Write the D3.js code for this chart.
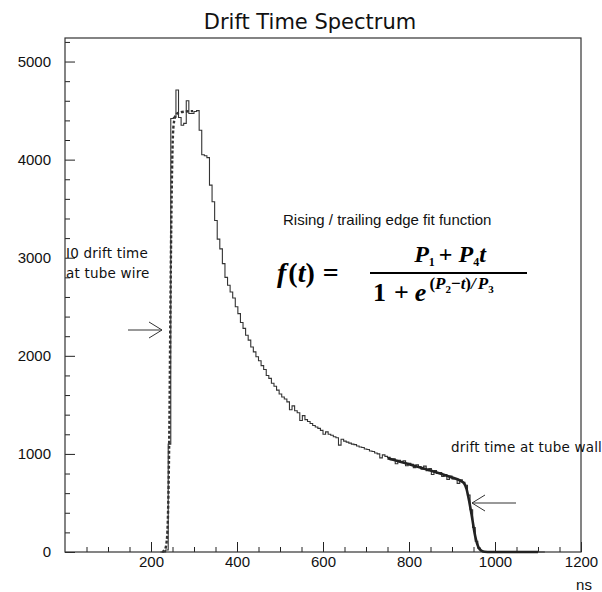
<!DOCTYPE html>
<html>
<head>
<meta charset="utf-8">
<script src="https://cdn.jsdelivr.net/npm/d3@7"></script>
<style>
  body { margin: 0; background: #fff; }
  svg { display: block; }
</style>
</head>
<body>
<svg width="602" height="592"></svg>
<script>
// histogram: 6 ns bins starting at 222 ns
var binStart = 222, binWidth = 6;
var counts = [
  0, 0, 20, 1100, 4420, 4430, 4710, 4430, 4350, 4370,
  4600, 4470, 4470, 4490, 4500, 4300, 4050, 4040, 4020, 3740,
  3570, 3380, 3190, 3090, 2940, 2800, 2720, 2650, 2590, 2500,
  2430, 2340, 2280, 2210, 2160, 2090, 2040, 1990, 1950, 1900,
  1860, 1800, 1770, 1720, 1690, 1650, 1610, 1580, 1560, 1530,
  1450, 1490, 1440, 1420, 1340, 1390, 1350, 1330, 1310, 1290,
  1275, 1260, 1240, 1200, 1225, 1200, 1190, 1175, 1165, 1090,
  1150, 1130, 1120, 1110, 1100, 1095, 1080, 1070, 1065, 1050,
  1045, 1030, 1025, 1010, 1000, 960, 990, 975, 965, 940,
  950, 900, 935, 915, 930, 880, 905, 895, 860, 890,
  870, 845, 875, 830, 850, 790, 830, 800, 810, 770,
  790, 740, 775, 745, 750, 700, 735, 710, 680, 580,
  430, 250, 110, 40, 10, 0, 0, 0, 0, 0,
  0, 0, 0, 0, 0, 0, 0, 0, 0, 0,
  0, 0, 0, 0, 0, 0, 0, 0, 0
];

// rising edge fit (dashed)
var riseT = [226, 232, 236, 239, 241, 243, 245, 247, 249, 251, 254, 258, 266, 280, 298];
var riseF = [0, 20, 90, 300, 700, 1400, 2400, 3300, 3900, 4250, 4400, 4460, 4480, 4490, 4495];

// trailing edge fit (solid)
var fallT = [750, 800, 850, 900, 920, 928, 934, 938, 942, 946, 950, 954, 958, 962, 968, 976, 990, 1100];
var fallF = [955, 895, 830, 760, 725, 700, 640, 560, 470, 370, 260, 160, 90, 45, 15, 3, 0, 0];

var xMajor = [200, 400, 600, 800, 1000, 1200];
var xMinor = [50, 100, 150, 250, 300, 350, 450, 500, 550, 650, 700, 750, 850, 900, 950, 1050, 1100, 1150];
var yMajor = [0, 1000, 2000, 3000, 4000, 5000];
var yMinor = [200, 400, 600, 800, 1200, 1400, 1600, 1800, 2200, 2400, 2600, 2800, 3200, 3400, 3600, 3800, 4200, 4400, 4600, 4800, 5200];

var svg = d3.select("svg"),
    margin = {top: 38, right: 21, bottom: 40, left: 65},
    width = +svg.attr("width") - margin.left - margin.right,
    height = +svg.attr("height") - margin.top - margin.bottom,
    g = svg.append("g").attr("transform", "translate(" + margin.left + "," + margin.top + ")");

var x = d3.scaleLinear().domain([0, 1200]).range([0, width]);
var y = d3.scaleLinear().domain([0, 5240]).range([height, 0]);

var ink = "#222";

svg.append("text")
    .attr("x", 310).attr("y", 29)
    .attr("text-anchor", "middle")
    .attr("font-family", "DejaVu Sans")
    .attr("font-size", 21)
    .attr("fill", "#111")
    .text("Drift Time Spectrum");

// axes
g.append("g")
    .attr("transform", "translate(0," + height + ")")
    .call(d3.axisBottom(x).tickValues(xMajor).tickSize(-10).tickPadding(4).tickFormat(d3.format("d")));
g.append("g")
    .attr("transform", "translate(0," + height + ")")
    .call(d3.axisBottom(x).tickValues(xMinor).tickSize(-5).tickFormat(""));
g.append("g")
    .call(d3.axisLeft(y).tickValues(yMajor).tickSize(-10).tickPadding(14).tickFormat(d3.format("d")));
g.append("g")
    .call(d3.axisLeft(y).tickValues(yMinor).tickSize(-5).tickFormat(""));

g.selectAll(".domain").remove();
g.selectAll(".tick line").attr("stroke", ink);
g.selectAll(".tick text")
    .attr("font-family", "Liberation Sans, Arial, sans-serif")
    .attr("font-size", 15)
    .attr("fill", "#111");

g.append("rect")
    .attr("width", width).attr("height", height)
    .attr("fill", "none").attr("stroke", "#333").attr("stroke-width", 1.2);

svg.append("text")
    .attr("x", 584).attr("y", 590)
    .attr("text-anchor", "middle")
    .attr("font-family", "Liberation Sans, Arial, sans-serif")
    .attr("font-size", 15)
    .attr("fill", "#111")
    .text("ns");

// histogram
var hist = counts.map(function(c, i) { return {t: binStart + i * binWidth, c: c}; });
hist.push({t: binStart + counts.length * binWidth, c: counts[counts.length - 1]});

var step = d3.line()
    .x(function(d) { return x(d.t); })
    .y(function(d) { return y(d.c); })
    .curve(d3.curveStepAfter);

g.append("path")
    .datum(hist)
    .attr("fill", "none")
    .attr("stroke", "#333")
    .attr("stroke-width", 1.1)
    .attr("d", step);

var fitLine = d3.line()
    .x(function(d) { return x(d[0]); })
    .y(function(d) { return y(d[1]); })
    .curve(d3.curveMonotoneX);

g.append("path")
    .datum(riseT.map(function(t, i) { return [t, riseF[i]]; }))
    .attr("fill", "none")
    .attr("stroke", "#333")
    .attr("stroke-width", 2.4)
    .attr("stroke-dasharray", "3,2")
    .attr("d", fitLine);

g.append("path")
    .datum(fallT.map(function(t, i) { return [t, fallF[i]]; }))
    .attr("fill", "none")
    .attr("stroke", "#222")
    .attr("stroke-width", 2.6)
    .attr("d", fitLine);

// annotations
var note = svg.append("g")
    .attr("font-family", "DejaVu Sans")
    .attr("font-size", 13.5)
    .attr("letter-spacing", 0.2)
    .attr("fill", "#111");
note.append("text").attr("x", 66).attr("y", 258).text("I0 drift time");
note.append("text").attr("x", 66).attr("y", 278).text("at tube wire");
note.append("text").attr("x", 451).attr("y", 452).text("drift time at tube wall");

function arrow(x1, x2, yy) {
  var dir = x2 > x1 ? -1 : 1;
  var a = svg.append("g").attr("stroke", "#333").attr("stroke-width", 1).attr("fill", "none");
  a.append("line").attr("x1", x1).attr("y1", yy).attr("x2", x2).attr("y2", yy);
  a.append("line").attr("x1", x2).attr("y1", yy).attr("x2", x2 + dir * 13).attr("y2", yy - 8);
  a.append("line").attr("x1", x2).attr("y1", yy).attr("x2", x2 + dir * 13).attr("y2", yy + 8);
}
arrow(128, 162, 330);
arrow(516, 472, 503);

svg.append("text")
    .attr("x", 283).attr("y", 225)
    .attr("font-family", "Liberation Sans, Arial, sans-serif")
    .attr("font-size", 15)
    .attr("fill", "#111")
    .text("Rising / trailing edge fit function");

// formula
var f = svg.append("g")
    .attr("font-family", "Liberation Serif, Times New Roman, serif")
    .attr("font-weight", "bold")
    .attr("fill", "#000");

var lhs = f.append("text").attr("x", 277).attr("y", 282).attr("font-size", 28);
lhs.append("tspan").attr("font-style", "italic").text("f");
lhs.append("tspan").attr("dx", 2).text("(");
lhs.append("tspan").attr("font-style", "italic").text("t");
lhs.append("tspan").text(")");
lhs.append("tspan").attr("dx", 8).text("=");

var num = f.append("text").attr("x", 450).attr("y", 262).attr("font-size", 24).attr("text-anchor", "middle");
num.append("tspan").attr("font-style", "italic").text("P");
num.append("tspan").attr("font-size", 12).attr("dy", 4).text("1");
num.append("tspan").attr("dy", -4).attr("dx", 4).text("+");
num.append("tspan").attr("dx", 6).attr("font-style", "italic").text("P");
num.append("tspan").attr("font-size", 12).attr("dy", 4).text("4");
num.append("tspan").attr("dy", -4).attr("font-style", "italic").text("t");

f.append("line")
    .attr("x1", 370).attr("x2", 527).attr("y1", 273).attr("y2", 273)
    .attr("stroke", "#000").attr("stroke-width", 1.8);

var den = f.append("text").attr("x", 373).attr("y", 301).attr("font-size", 26);
den.append("tspan").text("1");
den.append("tspan").attr("dx", 8).text("+");
den.append("tspan").attr("dx", 6).attr("font-style", "italic").text("e");
den.append("tspan").attr("font-size", 17).attr("dy", -12).attr("dx", 3).text("(");
den.append("tspan").attr("font-size", 17).attr("font-style", "italic").text("P");
den.append("tspan").attr("font-size", 11).attr("dy", 4).text("2");
den.append("tspan").attr("font-size", 17).attr("dy", -4).text("\u2212");
den.append("tspan").attr("font-size", 17).attr("font-style", "italic").text("t");
den.append("tspan").attr("font-size", 17).text(")");
den.append("tspan").attr("font-size", 17).attr("font-style", "italic").text("/");
den.append("tspan").attr("font-size", 17).attr("dx", 2).attr("font-style", "italic").text("P");
den.append("tspan").attr("font-size", 11).attr("dy", 4).text("3");
</script>
</body>
</html>
